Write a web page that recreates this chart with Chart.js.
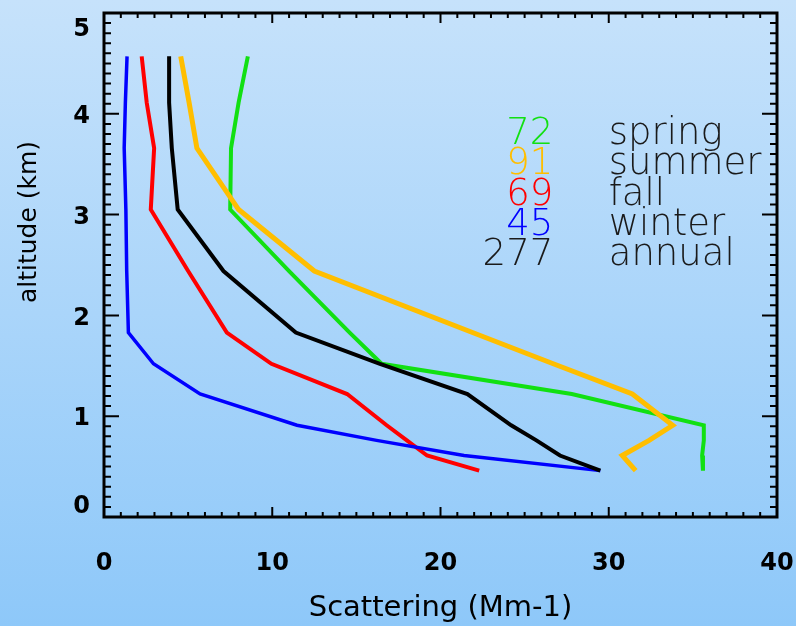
<!DOCTYPE html>
<html>
<head>
<meta charset="utf-8">
<title>Scattering profiles</title>
<script src="https://cdn.jsdelivr.net/npm/chart.js@4"></script>
<style>
    html, body {
        margin: 0;
        padding: 0;
        width: 796px;
        height: 626px;
        overflow: hidden;
        background: linear-gradient(to bottom, #c6e2fb, #8ec8f9);
    }
    canvas { display: block; }
</style>
</head>
<body>
<canvas id="profileChart" width="796" height="626"></canvas>
<script>
// Altitude levels of the profiles (km)
const altitude = [4.57, 4.11, 3.66, 3.05, 2.44, 1.83, 1.52, 1.22, 0.91, 0.76, 0.61, 0.46];

// Scattering (Mm-1) at each altitude level
const spring = [8.55, 8.0, 7.55, 7.5, 11.0, 14.6, 16.5, 27.8, 35.65, 35.65, 35.55, 35.6];
const summer = [4.56, 5.06, 5.52, 8.0, 12.5, 21.9, 26.7, 31.4, 33.8, 32.4, 30.8, 31.6];
const fall = [2.24, 2.54, 2.98, 2.78, 5.0, 7.3, 9.95, 14.45, 16.8, 18.0, 19.2, 22.3];
const winter = [1.37, 1.27, 1.2, 1.3, 1.35, 1.45, 2.94, 5.71, 11.47, 16.2, 21.4, 29.5];
const annual = [3.87, 3.87, 4.03, 4.38, 7.1, 11.4, 16.4, 21.6, 24.2, 25.7, 27.1, 29.5];

// Number of profiles per season
const seasonNames = ['spring', 'summer', 'fall', 'winter', 'annual'];
const seasonCounts = ['72', '91', '69', '45', '277'];
const seasonColors = ['#12e012', '#ffbe00', '#ff0000', '#0000ff', '#000000'];

// Axes
const xTicks = [0, 10, 20, 30, 40];
const yTicks = [0, 1, 2, 3, 4, 5];

function toPoints(values) {
    return values.map((v, i) => ({ x: v, y: altitude[i] }));
}

const seriesValues = [spring, summer, fall, winter, annual];
const lineWidths = [4, 5, 4, 3.5, 4];
const drawOrder = [5, 4, 3, 2, 1]; // annual on top

// Frame with inward ticks (IDL style), y labels, y title and the counts table
const idlFrame = {
    id: 'idlFrame',
    afterDatasetsDraw(chart) {
        const ctx = chart.ctx;
        const area = chart.chartArea;
        const xs = chart.scales.x;
        const ys = chart.scales.y;

        ctx.save();
        ctx.strokeStyle = '#000';
        ctx.lineWidth = 3;
        ctx.strokeRect(area.left, area.top, area.right - area.left, area.bottom - area.top);

        ctx.lineWidth = 2;
        ctx.beginPath();
        for (let k = 0; k <= 40; k++) {
            const p = xs.getPixelForValue(k);
            const len = k % 10 == 0 ? 10 : 5;
            ctx.moveTo(p, area.bottom);
            ctx.lineTo(p, area.bottom - len);
            ctx.moveTo(p, area.top);
            ctx.lineTo(p, area.top + len);
        }
        for (let k = 0; k <= 50; k++) {
            const p = ys.getPixelForValue(k / 10);
            const len = k % 10 == 0 ? 15 : 7;
            ctx.moveTo(area.left, p);
            ctx.lineTo(area.left + len, p);
            ctx.moveTo(area.right, p);
            ctx.lineTo(area.right - len, p);
        }
        ctx.stroke();

        // y tick labels, kept inside the frame height
        ctx.fillStyle = '#000';
        ctx.font = 'bold 24px "DejaVu Sans"';
        ctx.textAlign = 'right';
        ctx.textBaseline = 'middle';
        ys.ticks.forEach(t => {
            let p = ys.getPixelForValue(t.value) + 3;
            p = Math.min(Math.max(p, area.top + 17), area.bottom - 10);
            ctx.fillText(t.label, area.left - 14, p);
        });

        // y title
        ctx.save();
        ctx.translate(29, 222);
        ctx.rotate(-Math.PI / 2);
        ctx.textAlign = 'center';
        ctx.font = '25px "DejaVu Sans"';
        ctx.fillText('altitude (km)', 0, 0);
        ctx.restore();

        // counts table
        ctx.font = '200 37px "DejaVu Sans"';
        ctx.textBaseline = 'alphabetic';
        const numX = xs.getPixelForValue(26.7);
        const nameX = xs.getPixelForValue(30.0);
        for (let i = 0; i < seasonNames.length; i++) {
            const baseY = ys.getPixelForValue(3.7 - 0.3 * i);
            ctx.textAlign = 'right';
            ctx.fillStyle = seasonColors[i] == '#000000' ? '#1a1a1a' : seasonColors[i];
            ctx.fillText(seasonCounts[i], numX, baseY);
            ctx.textAlign = 'left';
            ctx.fillStyle = '#1a1a1a';
            ctx.fillText(seasonNames[i], nameX, baseY);
        }
        ctx.restore();
    }
};

const datasets = seasonNames.map((name, i) => ({
    label: name,
    data: toPoints(seriesValues[i]),
    borderColor: seasonColors[i],
    borderWidth: lineWidths[i],
    pointRadius: 0,
    fill: false,
    tension: 0,
    order: drawOrder[i]
}));

const ctx = document.getElementById('profileChart').getContext('2d');
const mainChart = new Chart(ctx, {
    type: 'line',
    data: { datasets: datasets },
    options: {
        responsive: false,
        animation: false,
        devicePixelRatio: 1,
        layout: { padding: { top: 13, right: 19, left: 0, bottom: 0 } },
        plugins: {
            legend: { display: false },
            tooltip: { enabled: false }
        },
        scales: {
            x: {
                type: 'linear',
                min: xTicks[0],
                max: xTicks[xTicks.length - 1],
                afterBuildTicks(scale) { scale.ticks = xTicks.map(v => ({ value: v })); },
                ticks: {
                    color: '#000',
                    padding: 32,
                    font: { family: 'DejaVu Sans', size: 24, weight: 'bold' }
                },
                grid: { display: false, drawTicks: false },
                border: { display: false },
                title: {
                    display: true,
                    text: 'Scattering (Mm-1)',
                    color: '#000',
                    font: { family: 'DejaVu Sans', size: 29 },
                    padding: { top: 0, bottom: 0 }
                },
                afterFit(scale) {
                    scale.height = 109;
                    scale.paddingLeft = 0;
                    scale.paddingRight = 0;
                }
            },
            y: {
                type: 'linear',
                min: yTicks[0],
                max: yTicks[yTicks.length - 1],
                afterBuildTicks(scale) { scale.ticks = yTicks.map(v => ({ value: v })); },
                ticks: { display: false },
                grid: { display: false, drawTicks: false },
                border: { display: false },
                afterFit(scale) {
                    scale.width = 104;
                    scale.paddingTop = 0;
                    scale.paddingBottom = 0;
                }
            }
        }
    },
    plugins: [idlFrame]
});
</script>
</body>
</html>
